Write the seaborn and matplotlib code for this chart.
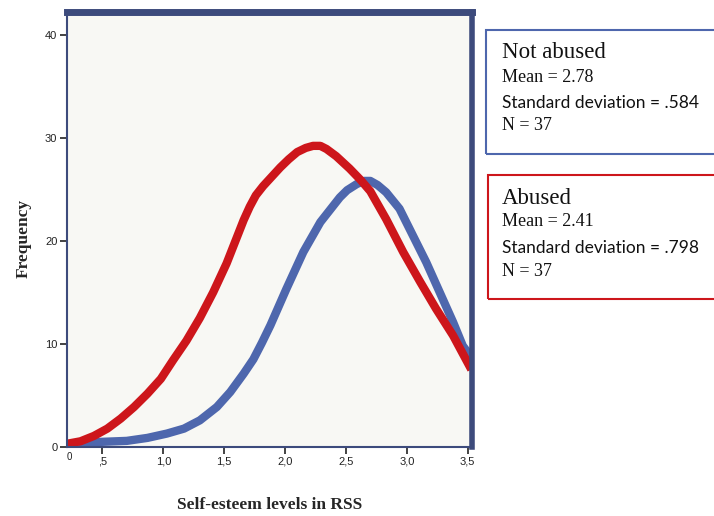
import pandas as pd
import numpy as np
import seaborn as sns
import matplotlib.pyplot as plt
from matplotlib.patches import Rectangle

# Curves (x = RSS score, y = frequency)
abused_x = [0.21, 0.32, 0.43, 0.54, 0.65, 0.76, 0.87, 0.98, 1.08, 1.19, 1.30,
            1.41, 1.52, 1.60, 1.66, 1.71, 1.76, 1.82, 1.96, 2.03, 2.10, 2.17,
            2.23, 2.29, 2.34, 2.42, 2.53, 2.62, 2.70, 2.83, 2.97, 3.11, 3.24,
            3.38, 3.53]
abused_y = [0.3, 0.54, 1.06, 1.77, 2.74, 3.87, 5.16, 6.6, 8.4, 10.3, 12.5,
            15.0, 17.8, 20.2, 22.0, 23.3, 24.4, 25.3, 27.1, 27.9, 28.6, 29.0,
            29.2, 29.2, 28.9, 28.2, 27.0, 25.9, 24.8, 22.1, 18.9, 16.0, 13.4,
            10.8, 7.5]

notabused_x = [0.30, 0.48, 0.70, 0.87, 1.03, 1.17, 1.30, 1.44, 1.55, 1.66,
               1.74, 1.81, 1.88, 2.01, 2.15, 2.29, 2.37, 2.45, 2.51, 2.59,
               2.65, 2.70, 2.76, 2.83, 2.94, 3.05, 3.16, 3.27, 3.38, 3.46, 3.53]
notabused_y = [0.3, 0.48, 0.58, 0.87, 1.29, 1.77, 2.57, 3.87, 5.32, 7.1,
               8.5, 10.1, 11.8, 15.3, 18.9, 21.8, 23.0, 24.2, 24.9, 25.5,
               25.8, 25.8, 25.4, 24.7, 23.1, 20.5, 17.9, 15.0, 12.1, 9.8, 8.7]

xtick_vals = [0.5, 1.0, 1.5, 2.0, 2.5, 3.0, 3.5]
xtick_labels = [",5", "1,0", "1,5", "2,0", "2,5", "3,0", "3,5"]
ytick_vals = [0, 10, 20, 30, 40]

groups = ["Not abused", "Abused"]
means = ["2.78", "2.41"]
sds = [".584", ".798"]
ns = ["37", "37"]

df = pd.concat([
    pd.DataFrame({"x": notabused_x, "y": notabused_y, "group": "Not abused"}),
    pd.DataFrame({"x": abused_x, "y": abused_y, "group": "Abused"}),
])

sns.set_theme(style="ticks")
plt.rcParams["font.family"] = ["Liberation Sans", "DejaVu Sans"]

navy = "#3D4B7C"
palette = {"Not abused": "#4E67AD", "Abused": "#CD161B"}

fig = plt.figure(figsize=(7.14, 5.16), dpi=100)
ax = fig.add_axes([0.094, 0.134, 0.567, 0.843])
ax.set_facecolor("#F8F8F4")

sns.lineplot(data=df, x="x", y="y", hue="group", palette=palette,
             linewidth=6, sort=True, legend=False, ax=ax,
             solid_capstyle="butt", solid_joinstyle="round")

ax.set_xlim(0.21, 3.535)
ax.set_ylim(0, 42.2)
ax.set_xticks(xtick_vals)
ax.set_xticklabels(xtick_labels)
ax.set_yticks(ytick_vals)
ax.tick_params(axis="both", labelsize=8, length=5, width=1.2, color="#222222",
               pad=2, labelcolor="#222222")

for side, lw in [("left", 1.5), ("bottom", 1.5), ("top", 5), ("right", 4)]:
    ax.spines[side].set_visible(True)
    ax.spines[side].set_color(navy)
    ax.spines[side].set_linewidth(lw)

ax.text(0.0, -0.012, "0", transform=ax.transAxes, ha="left", va="top",
        fontsize=7, color="#222222")

ax.set_xlabel("Self-esteem levels in RSS", family="Liberation Serif",
              fontweight="bold", fontsize=12.5, labelpad=22)
ax.set_ylabel("Frequency", family="Liberation Serif",
              fontweight="bold", fontsize=12.5)
ax.yaxis.set_label_coords(-0.088, 0.48)

# stats boxes on the right
box_colors = ["#4E67AD", "#CD161B"]
box_tops = [30, 175]
box_lefts = [486, 488]
for g, m, s, n, c, top, left in zip(groups, means, sds, ns, box_colors,
                                   box_tops, box_lefts):
    y_top = 1 - top / 516
    h = 124 / 516
    fig.patches.append(Rectangle((left / 714, y_top - h), 0.35, h,
                                 transform=fig.transFigure, fill=False,
                                 edgecolor=c, linewidth=1.5))
    tx = 502 / 714
    fig.text(tx, 1 - (top + 23) / 516, g, family="Liberation Serif",
             fontsize=16.5, va="center", ha="left", color="#111111")
    fig.text(tx, 1 - (top + 47) / 516, "Mean = " + m, family="Liberation Serif",
             fontsize=13, va="center", ha="left", color="#111111")
    fig.text(tx, 1 - (top + 73) / 516, "Standard deviation = " + s,
             family=["Lato", "DejaVu Sans"],
             fontsize=12.5, va="center", ha="left", color="#111111")
    fig.text(tx, 1 - (top + 96) / 516, "N = " + n, family="Liberation Serif",
             fontsize=13, va="center", ha="left", color="#111111")

fig.savefig("out.png", dpi=100)
